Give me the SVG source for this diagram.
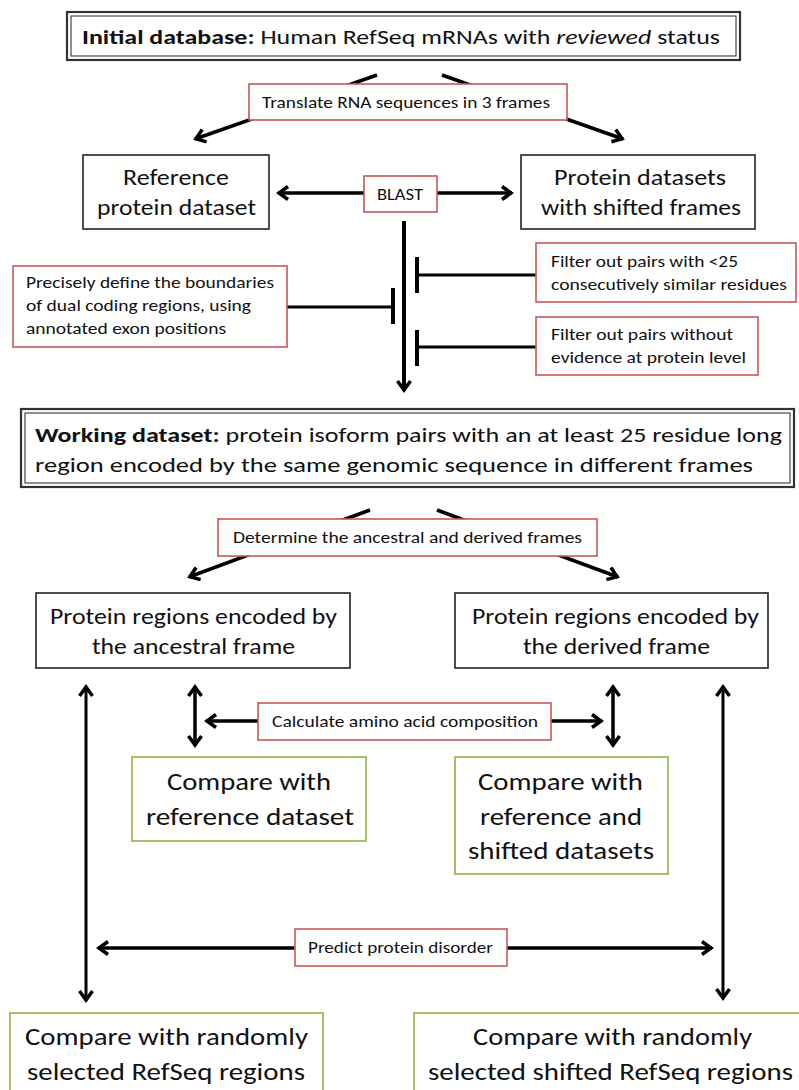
<svg xmlns="http://www.w3.org/2000/svg" width="799" height="1090" viewBox="0 0 799 1090">
<style>
  text { font-family: Carlito, Lato, "Open Sans", sans-serif; fill: #111; }
  .t22 { font-size: 22px; }
  .t21 { font-size: 21px; }
  .t24 { font-size: 24px; }
  .t25 { font-size: 25px; }
  .lbl { font-size: 16px; }
  .blk { fill: #fff; stroke: #222; stroke-width: 1.6; }
  .red { fill: #fff; stroke: #c8585a; stroke-width: 1.6; }
  .grn { fill: #fff; stroke: #9bbb59; stroke-width: 1.8; }
  .dbo { fill: #fff; stroke: #333; stroke-width: 2.2; }
  .dbi { fill: none; stroke: #333; stroke-width: 1.1; }
  .ln { stroke: #000; stroke-width: 3.5; fill: none; }
  .lnt { stroke: #000; stroke-width: 3; fill: none; }
  .bar { stroke: #000; stroke-width: 4; fill: none; }
</style>
<defs>
  <marker id="ah" viewBox="-12 -9 16 18" refX="1" refY="0" markerWidth="16" markerHeight="18" markerUnits="userSpaceOnUse" orient="auto-start-reverse">
    <path d="M-9,-6.5 L0,0 L-9,6.5" fill="none" stroke="#000" stroke-width="3.5"/>
  </marker>
</defs>
<rect width="799" height="1090" fill="#fff"/>

<g id="connectors">
  <line class="ln" x1="377" y1="75" x2="195" y2="139" marker-end="url(#ah)"/>
  <line class="ln" x1="442" y1="75" x2="623" y2="139" marker-end="url(#ah)"/>
  <line class="ln" x1="278" y1="193" x2="512" y2="193" marker-start="url(#ah)" marker-end="url(#ah)"/>
  <line class="bar" x1="404" y1="221" x2="404" y2="391" marker-end="url(#ah)"/>
  <line class="lnt" x1="287" y1="307" x2="393" y2="307"/>
  <line class="bar" x1="393" y1="288" x2="393" y2="324"/>
  <line class="lnt" x1="417" y1="275" x2="536" y2="275"/>
  <line class="bar" x1="417" y1="257" x2="417" y2="293"/>
  <line class="lnt" x1="417" y1="347" x2="536" y2="347"/>
  <line class="bar" x1="417" y1="330" x2="417" y2="366"/>
  <line class="ln" x1="370" y1="510" x2="189" y2="577" marker-end="url(#ah)"/>
  <line class="ln" x1="437" y1="510" x2="618" y2="577" marker-end="url(#ah)"/>
  <line class="lnt" x1="86" y1="686" x2="86" y2="1001" marker-start="url(#ah)" marker-end="url(#ah)"/>
  <line class="lnt" x1="723" y1="686" x2="723" y2="999" marker-start="url(#ah)" marker-end="url(#ah)"/>
  <line class="ln" x1="195" y1="686" x2="195" y2="746" marker-start="url(#ah)" marker-end="url(#ah)"/>
  <line class="ln" x1="613" y1="686" x2="613" y2="746" marker-start="url(#ah)" marker-end="url(#ah)"/>
  <line class="ln" x1="206" y1="721" x2="602" y2="721" marker-start="url(#ah)" marker-end="url(#ah)"/>
  <line class="ln" x1="98" y1="948" x2="712" y2="948" marker-start="url(#ah)" marker-end="url(#ah)"/>
</g>

<g id="initial-db">
  <rect class="dbo" x="67" y="12" width="673" height="48"/>
  <rect class="dbi" x="71" y="16" width="665" height="40"/>
  <text class="t21" x="82" y="44" textLength="638" lengthAdjust="spacingAndGlyphs"><tspan font-weight="bold">Initial database:</tspan> Human RefSeq mRNAs with <tspan font-style="italic">reviewed</tspan> status</text>
</g>

<g id="translate-label">
  <rect class="red" x="249" y="84" width="318" height="36"/>
  <text class="lbl" x="262" y="108" textLength="288" lengthAdjust="spacingAndGlyphs">Translate RNA sequences in 3 frames</text>
</g>

<g id="reference-dataset">
  <rect class="blk" x="83" y="155" width="186" height="74"/>
  <text class="t22" x="123" y="185" textLength="106" lengthAdjust="spacingAndGlyphs">Reference</text>
  <text class="t22" x="97" y="215" textLength="159" lengthAdjust="spacingAndGlyphs">protein dataset</text>
</g>

<g id="shifted-datasets">
  <rect class="blk" x="521" y="155" width="234" height="74"/>
  <text class="t22" x="554" y="185" textLength="172" lengthAdjust="spacingAndGlyphs">Protein datasets</text>
  <text class="t22" x="541" y="215" textLength="200" lengthAdjust="spacingAndGlyphs">with shifted frames</text>
</g>

<g id="blast-label">
  <rect class="red" x="364" y="176" width="73" height="36"/>
  <text class="lbl" x="377" y="200" textLength="46" lengthAdjust="spacingAndGlyphs">BLAST</text>
</g>

<g id="boundaries-label">
  <rect class="red" x="13" y="266" width="274" height="81"/>
  <text class="lbl" x="26" y="288" textLength="248" lengthAdjust="spacingAndGlyphs">Precisely define the boundaries</text>
  <text class="lbl" x="26" y="311" textLength="225" lengthAdjust="spacingAndGlyphs">of dual coding regions, using</text>
  <text class="lbl" x="26" y="334" textLength="200" lengthAdjust="spacingAndGlyphs">annotated exon positions</text>
</g>

<g id="filter-similar-label">
  <rect class="red" x="536" y="243" width="260" height="59"/>
  <text class="lbl" x="551" y="267" textLength="187" lengthAdjust="spacingAndGlyphs">Filter out pairs with &lt;25</text>
  <text class="lbl" x="551" y="290" textLength="236" lengthAdjust="spacingAndGlyphs">consecutively similar residues</text>
</g>

<g id="filter-evidence-label">
  <rect class="red" x="536" y="317" width="222" height="58"/>
  <text class="lbl" x="551" y="340" textLength="182" lengthAdjust="spacingAndGlyphs">Filter out pairs without</text>
  <text class="lbl" x="551" y="363" textLength="195" lengthAdjust="spacingAndGlyphs">evidence at protein level</text>
</g>

<g id="working-dataset">
  <rect class="dbo" x="21" y="409" width="773" height="78"/>
  <rect class="dbi" x="25" y="413" width="765" height="70"/>
  <text class="t21" x="35" y="442" textLength="747" lengthAdjust="spacingAndGlyphs"><tspan font-weight="bold">Working dataset:</tspan> protein isoform pairs with an at least 25 residue long</text>
  <text class="t21" x="35" y="472" textLength="718" lengthAdjust="spacingAndGlyphs">region encoded by the same genomic sequence in different frames</text>
</g>

<g id="determine-label">
  <rect class="red" x="218" y="519" width="379" height="37"/>
  <text class="lbl" x="233" y="543" textLength="349" lengthAdjust="spacingAndGlyphs">Determine the ancestral and derived frames</text>
</g>

<g id="ancestral-regions">
  <rect class="blk" x="36" y="593" width="314" height="75"/>
  <text class="t22" x="50" y="624" textLength="287" lengthAdjust="spacingAndGlyphs">Protein regions encoded by</text>
  <text class="t22" x="92" y="654" textLength="203" lengthAdjust="spacingAndGlyphs">the ancestral frame</text>
</g>

<g id="derived-regions">
  <rect class="blk" x="455" y="593" width="313" height="75"/>
  <text class="t22" x="472" y="624" textLength="287" lengthAdjust="spacingAndGlyphs">Protein regions encoded by</text>
  <text class="t22" x="523" y="654" textLength="187" lengthAdjust="spacingAndGlyphs">the derived frame</text>
</g>

<g id="composition-label">
  <rect class="red" x="258" y="703" width="293" height="37"/>
  <text class="lbl" x="272" y="727" textLength="266" lengthAdjust="spacingAndGlyphs">Calculate amino acid composition</text>
</g>

<g id="compare-reference">
  <rect class="grn" x="132" y="757" width="234" height="84"/>
  <text class="t24" x="167" y="790" textLength="164" lengthAdjust="spacingAndGlyphs">Compare with</text>
  <text class="t24" x="146" y="825" textLength="208" lengthAdjust="spacingAndGlyphs">reference dataset</text>
</g>

<g id="compare-reference-shifted">
  <rect class="grn" x="455" y="757" width="213" height="117"/>
  <text class="t24" x="478" y="790" textLength="165" lengthAdjust="spacingAndGlyphs">Compare with</text>
  <text class="t24" x="480" y="825" textLength="162" lengthAdjust="spacingAndGlyphs">reference and</text>
  <text class="t24" x="468" y="859" textLength="186" lengthAdjust="spacingAndGlyphs">shifted datasets</text>
</g>

<g id="disorder-label">
  <rect class="red" x="295" y="929" width="212" height="37"/>
  <text class="lbl" x="308" y="953" textLength="185" lengthAdjust="spacingAndGlyphs">Predict protein disorder</text>
</g>

<g id="compare-random-refseq">
  <rect class="grn" x="10" y="1013" width="313" height="90"/>
  <text class="t25" x="25" y="1045" textLength="283" lengthAdjust="spacingAndGlyphs">Compare with randomly</text>
  <text class="t25" x="27" y="1080" textLength="278" lengthAdjust="spacingAndGlyphs">selected RefSeq regions</text>
</g>

<g id="compare-random-shifted">
  <rect class="grn" x="414" y="1013" width="400" height="90"/>
  <text class="t25" x="473" y="1045" textLength="279" lengthAdjust="spacingAndGlyphs">Compare with randomly</text>
  <text class="t25" x="428" y="1080" textLength="365" lengthAdjust="spacingAndGlyphs">selected shifted RefSeq regions</text>
</g>
</svg>
